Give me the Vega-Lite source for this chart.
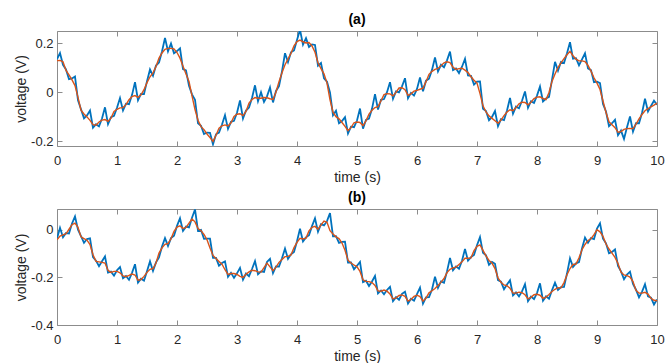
{
"$schema":"https://vega.github.io/schema/vega-lite/v6.json",
"padding":{"top":12,"left":14,"right":2,"bottom":0},
"background":"white",
"config":{"view":{"stroke":null},
"axis":{"grid":false,"labelFlush":false,"domainColor":"#8c8c8c","domainWidth":1,"tickColor":"#8c8c8c","tickSize":-5,"labelColor":"#262626","labelFont":"Liberation Sans","labelFontSize":13,"titleFont":"Liberation Sans","titleFontSize":14,"titleFontWeight":"normal","titleColor":"#262626"},
"title":{"font":"Liberation Sans","fontSize":14,"fontWeight":"bold","color":"#000000","offset":4,"frame":"group"}},
"data":{"values":[
{"t":0.00,"a":0.136,"sa":0.130,"b":-0.037,"sb":-0.042},
{"t":0.05,"a":0.161,"sa":0.131,"b":0.008,"sb":-0.027},
{"t":0.10,"a":0.113,"sa":0.125,"b":-0.032,"sb":-0.022},
{"t":0.15,"a":0.094,"sa":0.090,"b":-0.014,"sb":-0.017},
{"t":0.20,"a":0.054,"sa":0.072,"b":-0.016,"sb":0.002},
{"t":0.25,"a":0.057,"sa":0.051,"b":0.026,"sb":0.021},
{"t":0.30,"a":0.065,"sa":0.028,"b":0.056,"sb":0.028},
{"t":0.35,"a":-0.032,"sa":-0.020,"b":0.000,"sb":0.010},
{"t":0.40,"a":-0.069,"sa":-0.073,"b":-0.027,"sb":-0.030},
{"t":0.45,"a":-0.106,"sa":-0.088,"b":-0.055,"sb":-0.037},
{"t":0.50,"a":-0.094,"sa":-0.100,"b":-0.039,"sb":-0.044},
{"t":0.55,"a":-0.074,"sa":-0.114,"b":-0.036,"sb":-0.062},
{"t":0.60,"a":-0.144,"sa":-0.132,"b":-0.115,"sb":-0.105},
{"t":0.65,"a":-0.130,"sa":-0.134,"b":-0.130,"sb":-0.133},
{"t":0.70,"a":-0.139,"sa":-0.121,"b":-0.153,"sb":-0.135},
{"t":0.75,"a":-0.107,"sa":-0.113,"b":-0.132,"sb":-0.137},
{"t":0.80,"a":-0.061,"sa":-0.111,"b":-0.112,"sb":-0.140},
{"t":0.85,"a":-0.130,"sa":-0.118,"b":-0.180,"sb":-0.170},
{"t":0.90,"a":-0.101,"sa":-0.105,"b":-0.176,"sb":-0.179},
{"t":0.95,"a":-0.096,"sa":-0.078,"b":-0.193,"sb":-0.175},
{"t":1.00,"a":-0.063,"sa":-0.069,"b":-0.170,"sb":-0.175},
{"t":1.05,"a":-0.023,"sa":-0.063,"b":-0.157,"sb":-0.181},
{"t":1.10,"a":-0.074,"sa":-0.062,"b":-0.204,"sb":-0.194},
{"t":1.15,"a":-0.046,"sa":-0.050,"b":-0.194,"sb":-0.197},
{"t":1.20,"a":-0.048,"sa":-0.030,"b":-0.210,"sb":-0.192},
{"t":1.25,"a":-0.011,"sa":-0.017,"b":-0.181,"sb":-0.186},
{"t":1.30,"a":0.042,"sa":-0.013,"b":-0.145,"sb":-0.190},
{"t":1.35,"a":-0.032,"sa":-0.020,"b":-0.222,"sb":-0.212},
{"t":1.40,"a":-0.006,"sa":-0.010,"b":-0.206,"sb":-0.209},
{"t":1.45,"a":-0.007,"sa":0.011,"b":-0.214,"sb":-0.196},
{"t":1.50,"a":0.046,"sa":0.040,"b":-0.174,"sb":-0.179},
{"t":1.55,"a":0.094,"sa":0.064,"b":-0.133,"sb":-0.166},
{"t":1.60,"a":0.068,"sa":0.080,"b":-0.173,"sb":-0.163},
{"t":1.65,"a":0.110,"sa":0.106,"b":-0.137,"sb":-0.140},
{"t":1.70,"a":0.122,"sa":0.140,"b":-0.116,"sb":-0.098},
{"t":1.75,"a":0.167,"sa":0.161,"b":-0.071,"sb":-0.076},
{"t":1.80,"a":0.223,"sa":0.176,"b":-0.035,"sb":-0.061},
{"t":1.85,"a":0.168,"sa":0.180,"b":-0.068,"sb":-0.058},
{"t":1.90,"a":0.200,"sa":0.180,"b":-0.035,"sb":-0.038},
{"t":1.95,"a":0.160,"sa":0.178,"b":-0.025,"sb":-0.007},
{"t":2.00,"a":0.169,"sa":0.163,"b":0.016,"sb":0.011},
{"t":2.05,"a":0.180,"sa":0.140,"b":0.048,"sb":0.016},
{"t":2.10,"a":0.095,"sa":0.107,"b":-0.005,"sb":0.005},
{"t":2.15,"a":0.090,"sa":0.075,"b":0.013,"sb":0.010},
{"t":2.20,"a":0.027,"sa":0.045,"b":0.010,"sb":0.028},
{"t":2.25,"a":-0.008,"sa":-0.014,"b":0.050,"sb":0.045},
{"t":2.30,"a":-0.030,"sa":-0.070,"b":0.085,"sb":0.033},
{"t":2.35,"a":-0.126,"sa":-0.114,"b":-0.005,"sb":0.005},
{"t":2.40,"a":-0.136,"sa":-0.140,"b":-0.001,"sb":-0.004},
{"t":2.45,"a":-0.170,"sa":-0.152,"b":-0.038,"sb":-0.020},
{"t":2.50,"a":-0.164,"sa":-0.170,"b":-0.037,"sb":-0.042},
{"t":2.55,"a":-0.165,"sa":-0.185,"b":-0.037,"sb":-0.077},
{"t":2.60,"a":-0.212,"sa":-0.200,"b":-0.118,"sb":-0.108},
{"t":2.65,"a":-0.171,"sa":-0.175,"b":-0.118,"sb":-0.121},
{"t":2.70,"a":-0.164,"sa":-0.146,"b":-0.151,"sb":-0.133},
{"t":2.75,"a":-0.131,"sa":-0.137,"b":-0.140,"sb":-0.145},
{"t":2.80,"a":-0.093,"sa":-0.133,"b":-0.133,"sb":-0.168},
{"t":2.85,"a":-0.149,"sa":-0.137,"b":-0.198,"sb":-0.188},
{"t":2.90,"a":-0.120,"sa":-0.124,"b":-0.181,"sb":-0.184},
{"t":2.95,"a":-0.116,"sa":-0.098,"b":-0.202,"sb":-0.184},
{"t":3.00,"a":-0.083,"sa":-0.089,"b":-0.183,"sb":-0.188},
{"t":3.05,"a":-0.033,"sa":-0.087,"b":-0.160,"sb":-0.196},
{"t":3.10,"a":-0.107,"sa":-0.095,"b":-0.210,"sb":-0.200},
{"t":3.15,"a":-0.074,"sa":-0.078,"b":-0.184,"sb":-0.187},
{"t":3.20,"a":-0.062,"sa":-0.044,"b":-0.195,"sb":-0.177},
{"t":3.25,"a":-0.023,"sa":-0.029,"b":-0.165,"sb":-0.170},
{"t":3.30,"a":0.029,"sa":-0.021,"b":-0.132,"sb":-0.172},
{"t":3.35,"a":-0.036,"sa":-0.024,"b":-0.187,"sb":-0.177},
{"t":3.40,"a":0.001,"sa":-0.024,"b":-0.175,"sb":-0.178},
{"t":3.45,"a":-0.039,"sa":-0.021,"b":-0.177,"sb":-0.159},
{"t":3.50,"a":-0.016,"sa":-0.022,"b":-0.135,"sb":-0.140},
{"t":3.55,"a":0.020,"sa":-0.026,"b":-0.122,"sb":-0.156},
{"t":3.60,"a":-0.041,"sa":-0.029,"b":-0.182,"sb":-0.172},
{"t":3.65,"a":0.006,"sa":0.002,"b":-0.154,"sb":-0.157},
{"t":3.70,"a":0.026,"sa":0.044,"b":-0.155,"sb":-0.137},
{"t":3.75,"a":0.086,"sa":0.080,"b":-0.120,"sb":-0.125},
{"t":3.80,"a":0.160,"sa":0.113,"b":-0.079,"sb":-0.113},
{"t":3.85,"a":0.124,"sa":0.136,"b":-0.122,"sb":-0.112},
{"t":3.90,"a":0.164,"sa":0.160,"b":-0.103,"sb":-0.106},
{"t":3.95,"a":0.172,"sa":0.190,"b":-0.093,"sb":-0.075},
{"t":4.00,"a":0.214,"sa":0.208,"b":-0.048,"sb":-0.053},
{"t":4.05,"a":0.256,"sa":0.214,"b":0.004,"sb":-0.036},
{"t":4.10,"a":0.195,"sa":0.207,"b":-0.049,"sb":-0.039},
{"t":4.15,"a":0.222,"sa":0.202,"b":-0.032,"sb":-0.035},
{"t":4.20,"a":0.186,"sa":0.204,"b":-0.023,"sb":-0.005},
{"t":4.25,"a":0.196,"sa":0.190,"b":0.015,"sb":0.010},
{"t":4.30,"a":0.194,"sa":0.164,"b":0.048,"sb":0.014},
{"t":4.35,"a":0.109,"sa":0.121,"b":-0.008,"sb":0.002},
{"t":4.40,"a":0.120,"sa":0.097,"b":0.023,"sb":0.020},
{"t":4.45,"a":0.058,"sa":0.076,"b":0.018,"sb":0.036},
{"t":4.50,"a":0.044,"sa":0.038,"b":0.036,"sb":0.031},
{"t":4.55,"a":0.000,"sa":-0.030,"b":0.070,"sb":-0.004},
{"t":4.60,"a":-0.093,"sa":-0.081,"b":-0.028,"sb":-0.018},
{"t":4.65,"a":-0.075,"sa":-0.099,"b":-0.027,"sb":-0.030},
{"t":4.70,"a":-0.126,"sa":-0.108,"b":-0.055,"sb":-0.037},
{"t":4.75,"a":-0.117,"sa":-0.123,"b":-0.051,"sb":-0.056},
{"t":4.80,"a":-0.101,"sa":-0.139,"b":-0.050,"sb":-0.086},
{"t":4.85,"a":-0.168,"sa":-0.156,"b":-0.138,"sb":-0.128},
{"t":4.90,"a":-0.140,"sa":-0.144,"b":-0.137,"sb":-0.140},
{"t":4.95,"a":-0.142,"sa":-0.124,"b":-0.166,"sb":-0.148},
{"t":5.00,"a":-0.115,"sa":-0.121,"b":-0.151,"sb":-0.156},
{"t":5.05,"a":-0.066,"sa":-0.123,"b":-0.135,"sb":-0.175},
{"t":5.10,"a":-0.148,"sa":-0.136,"b":-0.220,"sb":-0.210},
{"t":5.15,"a":-0.112,"sa":-0.116,"b":-0.214,"sb":-0.217},
{"t":5.20,"a":-0.107,"sa":-0.089,"b":-0.236,"sb":-0.218},
{"t":5.25,"a":-0.067,"sa":-0.073,"b":-0.217,"sb":-0.222},
{"t":5.30,"a":-0.007,"sa":-0.062,"b":-0.194,"sb":-0.234},
{"t":5.35,"a":-0.070,"sa":-0.058,"b":-0.267,"sb":-0.257},
{"t":5.40,"a":-0.030,"sa":-0.034,"b":-0.255,"sb":-0.258},
{"t":5.45,"a":-0.027,"sa":-0.009,"b":-0.271,"sb":-0.253},
{"t":5.50,"a":0.001,"sa":-0.005,"b":-0.253,"sb":-0.258},
{"t":5.55,"a":0.042,"sa":-0.006,"b":-0.240,"sb":-0.270},
{"t":5.60,"a":-0.026,"sa":-0.014,"b":-0.300,"sb":-0.290},
{"t":5.65,"a":0.004,"sa":0.000,"b":-0.283,"sb":-0.286},
{"t":5.70,"a":0.000,"sa":0.018,"b":-0.294,"sb":-0.276},
{"t":5.75,"a":0.025,"sa":0.019,"b":-0.269,"sb":-0.274},
{"t":5.80,"a":0.058,"sa":0.011,"b":-0.260,"sb":-0.280},
{"t":5.85,"a":-0.024,"sa":-0.012,"b":-0.310,"sb":-0.300},
{"t":5.90,"a":-0.002,"sa":-0.006,"b":-0.290,"sb":-0.293},
{"t":5.95,"a":-0.013,"sa":0.005,"b":-0.298,"sb":-0.280},
{"t":6.00,"a":0.014,"sa":0.008,"b":-0.270,"sb":-0.275},
{"t":6.05,"a":0.061,"sa":0.013,"b":-0.243,"sb":-0.281},
{"t":6.10,"a":0.005,"sa":0.017,"b":-0.310,"sb":-0.300},
{"t":6.15,"a":0.048,"sa":0.044,"b":-0.284,"sb":-0.287},
{"t":6.20,"a":0.056,"sa":0.074,"b":-0.283,"sb":-0.265},
{"t":6.25,"a":0.092,"sa":0.086,"b":-0.251,"sb":-0.256},
{"t":6.30,"a":0.143,"sa":0.094,"b":-0.197,"sb":-0.247},
{"t":6.35,"a":0.086,"sa":0.098,"b":-0.244,"sb":-0.234},
{"t":6.40,"a":0.113,"sa":0.109,"b":-0.217,"sb":-0.220},
{"t":6.45,"a":0.103,"sa":0.121,"b":-0.223,"sb":-0.205},
{"t":6.50,"a":0.131,"sa":0.125,"b":-0.175,"sb":-0.180},
{"t":6.55,"a":0.167,"sa":0.122,"b":-0.119,"sb":-0.166},
{"t":6.60,"a":0.091,"sa":0.103,"b":-0.170,"sb":-0.160},
{"t":6.65,"a":0.098,"sa":0.094,"b":-0.154,"sb":-0.157},
{"t":6.70,"a":0.079,"sa":0.097,"b":-0.164,"sb":-0.146},
{"t":6.75,"a":0.105,"sa":0.099,"b":-0.130,"sb":-0.135},
{"t":6.80,"a":0.137,"sa":0.091,"b":-0.081,"sb":-0.120},
{"t":6.85,"a":0.069,"sa":0.081,"b":-0.130,"sb":-0.120},
{"t":6.90,"a":0.068,"sa":0.064,"b":-0.115,"sb":-0.118},
{"t":6.95,"a":0.032,"sa":0.050,"b":-0.106,"sb":-0.088},
{"t":7.00,"a":0.044,"sa":0.038,"b":-0.065,"sb":-0.070},
{"t":7.05,"a":0.045,"sa":-0.005,"b":-0.031,"sb":-0.064},
{"t":7.10,"a":-0.067,"sa":-0.055,"b":-0.097,"sb":-0.087},
{"t":7.15,"a":-0.076,"sa":-0.080,"b":-0.107,"sb":-0.110},
{"t":7.20,"a":-0.114,"sa":-0.096,"b":-0.147,"sb":-0.129},
{"t":7.25,"a":-0.100,"sa":-0.106,"b":-0.135,"sb":-0.140},
{"t":7.30,"a":-0.076,"sa":-0.116,"b":-0.143,"sb":-0.163},
{"t":7.35,"a":-0.138,"sa":-0.126,"b":-0.212,"sb":-0.202},
{"t":7.40,"a":-0.109,"sa":-0.113,"b":-0.218,"sb":-0.221},
{"t":7.45,"a":-0.113,"sa":-0.095,"b":-0.250,"sb":-0.232},
{"t":7.50,"a":-0.074,"sa":-0.080,"b":-0.230,"sb":-0.235},
{"t":7.55,"a":-0.023,"sa":-0.071,"b":-0.212,"sb":-0.246},
{"t":7.60,"a":-0.087,"sa":-0.075,"b":-0.276,"sb":-0.266},
{"t":7.65,"a":-0.058,"sa":-0.062,"b":-0.263,"sb":-0.266},
{"t":7.70,"a":-0.065,"sa":-0.047,"b":-0.280,"sb":-0.262},
{"t":7.75,"a":-0.034,"sa":-0.040,"b":-0.259,"sb":-0.264},
{"t":7.80,"a":0.004,"sa":-0.041,"b":-0.229,"sb":-0.273},
{"t":7.85,"a":-0.063,"sa":-0.051,"b":-0.300,"sb":-0.290},
{"t":7.90,"a":-0.036,"sa":-0.040,"b":-0.281,"sb":-0.284},
{"t":7.95,"a":-0.043,"sa":-0.025,"b":-0.291,"sb":-0.273},
{"t":8.00,"a":-0.013,"sa":-0.019,"b":-0.266,"sb":-0.271},
{"t":8.05,"a":0.024,"sa":-0.018,"b":-0.225,"sb":-0.275},
{"t":8.10,"a":-0.037,"sa":-0.025,"b":-0.298,"sb":-0.288},
{"t":8.15,"a":-0.025,"sa":-0.029,"b":-0.280,"sb":-0.283},
{"t":8.20,"a":-0.018,"sa":0.000,"b":-0.290,"sb":-0.272},
{"t":8.25,"a":0.051,"sa":0.045,"b":-0.254,"sb":-0.259},
{"t":8.30,"a":0.125,"sa":0.075,"b":-0.222,"sb":-0.250},
{"t":8.35,"a":0.089,"sa":0.101,"b":-0.253,"sb":-0.243},
{"t":8.40,"a":0.125,"sa":0.121,"b":-0.241,"sb":-0.244},
{"t":8.45,"a":0.120,"sa":0.138,"b":-0.240,"sb":-0.222},
{"t":8.50,"a":0.160,"sa":0.154,"b":-0.184,"sb":-0.189},
{"t":8.55,"a":0.205,"sa":0.168,"b":-0.120,"sb":-0.163},
{"t":8.60,"a":0.138,"sa":0.150,"b":-0.156,"sb":-0.146},
{"t":8.65,"a":0.140,"sa":0.136,"b":-0.141,"sb":-0.144},
{"t":8.70,"a":0.111,"sa":0.129,"b":-0.136,"sb":-0.118},
{"t":8.75,"a":0.135,"sa":0.129,"b":-0.079,"sb":-0.084},
{"t":8.80,"a":0.160,"sa":0.126,"b":-0.033,"sb":-0.062},
{"t":8.85,"a":0.098,"sa":0.110,"b":-0.055,"sb":-0.045},
{"t":8.90,"a":0.091,"sa":0.087,"b":-0.035,"sb":-0.038},
{"t":8.95,"a":0.042,"sa":0.060,"b":-0.039,"sb":-0.021},
{"t":9.00,"a":0.044,"sa":0.038,"b":0.005,"sb":0.000},
{"t":9.05,"a":0.038,"sa":0.012,"b":0.027,"sb":-0.009},
{"t":9.10,"a":-0.047,"sa":-0.035,"b":-0.038,"sb":-0.028},
{"t":9.15,"a":-0.078,"sa":-0.082,"b":-0.057,"sb":-0.060},
{"t":9.20,"a":-0.138,"sa":-0.120,"b":-0.099,"sb":-0.081},
{"t":9.25,"a":-0.126,"sa":-0.132,"b":-0.093,"sb":-0.098},
{"t":9.30,"a":-0.112,"sa":-0.144,"b":-0.083,"sb":-0.116},
{"t":9.35,"a":-0.175,"sa":-0.163,"b":-0.152,"sb":-0.142},
{"t":9.40,"a":-0.156,"sa":-0.160,"b":-0.175,"sb":-0.178},
{"t":9.45,"a":-0.190,"sa":-0.151,"b":-0.208,"sb":-0.190},
{"t":9.50,"a":-0.142,"sa":-0.148,"b":-0.188,"sb":-0.193},
{"t":9.55,"a":-0.098,"sa":-0.147,"b":-0.176,"sb":-0.199},
{"t":9.60,"a":-0.160,"sa":-0.148,"b":-0.228,"sb":-0.218},
{"t":9.65,"a":-0.126,"sa":-0.130,"b":-0.252,"sb":-0.255},
{"t":9.70,"a":-0.126,"sa":-0.108,"b":-0.284,"sb":-0.266},
{"t":9.75,"a":-0.084,"sa":-0.090,"b":-0.261,"sb":-0.266},
{"t":9.80,"a":-0.026,"sa":-0.075,"b":-0.229,"sb":-0.263},
{"t":9.85,"a":-0.078,"sa":-0.066,"b":-0.280,"sb":-0.270},
{"t":9.90,"a":-0.055,"sa":-0.059,"b":-0.285,"sb":-0.288},
{"t":9.95,"a":-0.034,"sa":-0.052,"b":-0.314,"sb":-0.296},
{"t":10.00,"a":-0.050,"sa":-0.044,"b":-0.293,"sb":-0.298}
]},
"spacing":6,
"vconcat":[
{"width":600,"height":115,"title":{"text":"(a)"},
"layer":[
{"mark":{"type":"line","color":"#0072BD","strokeWidth":1.8,"clip":true},
"encoding":{
"x":{"field":"t","type":"quantitative","scale":{"domain":[0,10],"nice":false},"axis":{"values":[0,1,2,3,4,5,6,7,8,9,10],"format":"d","title":"time (s)","labelPadding":13,"titlePadding":3}},
"y":{"field":"a","type":"quantitative","scale":{"domain":[-0.219,0.251],"nice":false,"zero":false},"axis":{"values":[-0.2,0,0.2],"format":".1~f","labelExpr":"replace(datum.label,'−','-')","title":"voltage (V)","labelPadding":9,"titlePadding":2}}}},
{"mark":{"type":"line","color":"#D95319","strokeWidth":1.4,"clip":true},
"encoding":{
"x":{"field":"t","type":"quantitative","scale":{"domain":[0,10],"nice":false},"axis":{"orient":"top","values":[0,1,2,3,4,5,6,7,8,9,10],"labels":false,"title":null}},
"y":{"field":"sa","type":"quantitative","scale":{"domain":[-0.219,0.251],"nice":false,"zero":false},"axis":{"orient":"right","values":[-0.2,0,0.2],"labels":false,"title":null}}}}
],
"resolve":{"axis":{"x":"independent","y":"independent"}}},
{"width":600,"height":116,"title":{"text":"(b)"},
"layer":[
{"mark":{"type":"line","color":"#0072BD","strokeWidth":1.8,"clip":true},
"encoding":{
"x":{"field":"t","type":"quantitative","scale":{"domain":[0,10],"nice":false},"axis":{"values":[0,1,2,3,4,5,6,7,8,9,10],"format":"d","title":"time (s)","labelPadding":13,"titlePadding":3}},
"y":{"field":"b","type":"quantitative","scale":{"domain":[-0.4,0.087],"nice":false,"zero":false},"axis":{"values":[-0.4,-0.2,0],"format":".1~f","labelExpr":"replace(datum.label,'−','-')","title":"voltage (V)","labelPadding":9,"titlePadding":2}}}},
{"mark":{"type":"line","color":"#D95319","strokeWidth":1.4,"clip":true},
"encoding":{
"x":{"field":"t","type":"quantitative","scale":{"domain":[0,10],"nice":false},"axis":{"orient":"top","values":[0,1,2,3,4,5,6,7,8,9,10],"labels":false,"title":null}},
"y":{"field":"sb","type":"quantitative","scale":{"domain":[-0.4,0.087],"nice":false,"zero":false},"axis":{"orient":"right","values":[-0.4,-0.2,0],"labels":false,"title":null}}}}
],
"resolve":{"axis":{"x":"independent","y":"independent"}}}
]
}
